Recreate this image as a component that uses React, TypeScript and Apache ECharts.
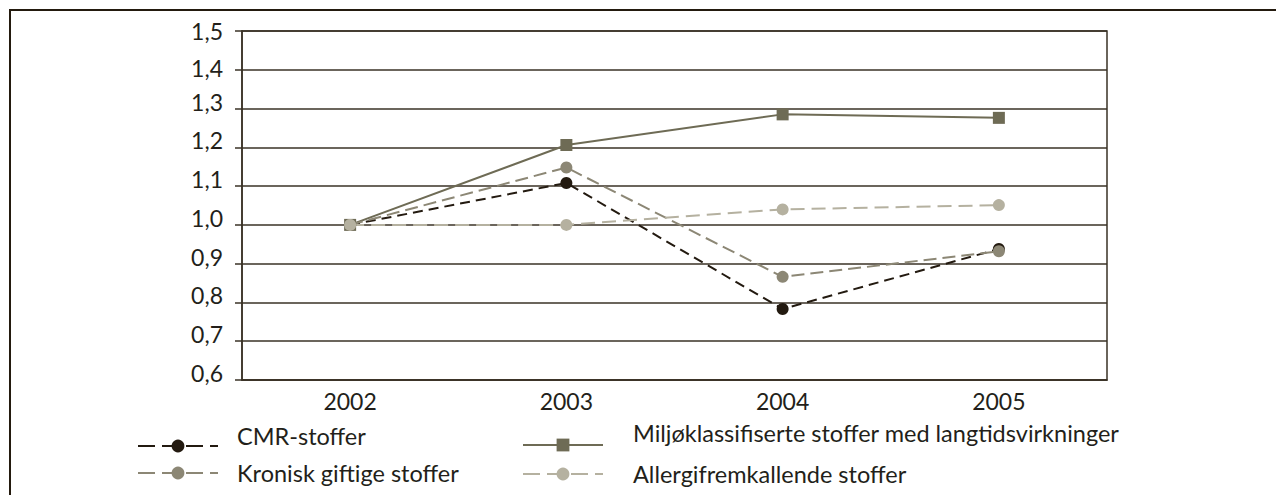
import { useEffect, useRef } from "react";
import * as echarts from "echarts";

const years = ["2002", "2003", "2004", "2005"];
const cmrValues = [1.0, 1.108, 0.783, 0.938];
const miljoValues = [1.0, 1.206, 1.285, 1.276];
const kroniskValues = [1.0, 1.148, 0.866, 0.932];
const allergiValues = [1.0, 1.0, 1.04, 1.051];
const seriesNames = [
  "CMR-stoffer",
  "Miljøklassifiserte stoffer med langtidsvirkninger",
  "Kronisk giftige stoffer",
  "Allergifremkallende stoffer",
];
const yMin = 0.6;
const yMax = 1.5;
const yStep = 0.1;

const FONT = "Lato";
const TEXT = "#231f1a";
const GRID = "#3a3226";
const C_CMR = "#231a10";
const C_MILJO = "#6e6b55";
const C_KRON = "#8c8775";
const C_ALL = "#b5b1a0";

export default function App() {
  const ref = useRef<HTMLDivElement>(null);
  useEffect(() => {
    if (!ref.current) return;
    const chart = echarts.init(ref.current, undefined, { renderer: "svg" });
    const legendBase = {
      orient: "horizontal",
      padding: 0,
      itemWidth: 80,
      itemHeight: 16,
      selectedMode: false,
      formatter: "{a|{name}}",
    };
    const txt = (padL: number, lift: number) => ({
      fontFamily: FONT,
      fontSize: 23.5,
      color: TEXT,
      rich: {
        a: {
          fontFamily: FONT,
          fontSize: 23.5,
          color: TEXT,
          padding: [0, 0, lift * 2, padL],
        },
      },
    });
    const yTok = (lh: number) => ({ fontFamily: FONT, fontSize: 23, color: TEXT, lineHeight: lh });
    chart.setOption({
      animation: false,
      backgroundColor: "#ffffff",
      textStyle: { fontFamily: FONT },
      grid: {
        left: 242,
        top: 31,
        right: 169,
        bottom: 115,
        show: true,
        borderColor: GRID,
        borderWidth: 1.5,
        containLabel: false,
      },
      graphic: [
        {
          type: "rect",
          silent: true,
          shape: { x: 10, y: 10, width: 1400, height: 700 },
          style: { fill: "none", stroke: "#231a0e", lineWidth: 2 },
        },
      ],
      legend: [
        { ...legendBase, data: [seriesNames[0]], left: 137, top: 424, textStyle: txt(14, 10), lineStyle: { type: [17, 7], width: 2 } },
        { ...legendBase, data: [seriesNames[1]], left: 522, top: 421, textStyle: txt(25, 12), lineStyle: { width: 2 } },
        { ...legendBase, data: [seriesNames[2]], left: 137, top: 461, textStyle: txt(14, 0), lineStyle: { type: [17, 7], width: 2 } },
        { ...legendBase, data: [seriesNames[3]], left: 522, top: 462, textStyle: txt(25, 0), lineStyle: { type: [17, 7], width: 2 } },
      ],
      xAxis: {
        type: "category",
        data: years,
        boundaryGap: true,
        axisLine: { show: true, lineStyle: { color: GRID, width: 1.5 } },
        axisTick: { show: false },
        axisLabel: { fontFamily: FONT, fontSize: 23, color: TEXT, margin: 9 },
        splitLine: { show: false },
      },
      yAxis: {
        type: "value",
        min: yMin,
        max: yMax,
        interval: yStep,
        axisLine: { show: true, lineStyle: { color: GRID, width: 1.5 } },
        axisTick: { show: true, inside: false, length: 7, lineStyle: { color: GRID, width: 1.5 } },
        axisLabel: {
          fontFamily: FONT,
          fontSize: 23,
          color: TEXT,
          margin: 19,
          verticalAlign: "bottom",
          lineHeight: 14,
          formatter: (v: number) => {
            const s = v.toFixed(1).replace(".", ",");
            if (v > 1.45) return "{t|" + s + "}";
            if (v > 1.35) return "{u|" + s + "}";
            return "{n|" + s + "}";
          },
          rich: {
            t: yTok(-10),
            u: yTok(4),
            n: yTok(14),
          },
        },
        splitLine: { show: true, lineStyle: { color: GRID, width: 1.5 } },
      },
      series: [
        {
          name: seriesNames[0],
          type: "line",
          data: cmrValues,
          symbol: "circle",
          symbolSize: 12,
          lineStyle: { color: C_CMR, width: 2, type: [10, 6] },
          itemStyle: { color: C_CMR },
        },
        {
          name: seriesNames[1],
          type: "line",
          data: miljoValues,
          symbol: "rect",
          symbolSize: 12,
          lineStyle: { color: C_MILJO, width: 2 },
          itemStyle: { color: C_MILJO },
        },
        {
          name: seriesNames[2],
          type: "line",
          data: kroniskValues,
          symbol: "circle",
          symbolSize: 12,
          lineStyle: { color: C_KRON, width: 2, type: [13, 6] },
          itemStyle: { color: C_KRON },
        },
        {
          name: seriesNames[3],
          type: "line",
          data: allergiValues,
          symbol: "circle",
          symbolSize: 12,
          lineStyle: { color: C_ALL, width: 2, type: [14, 7] },
          itemStyle: { color: C_ALL },
        },
      ],
    });
    return () => chart.dispose();
  }, []);
  return (
    <div
      ref={ref}
      style={{ position: "fixed", left: 0, top: 0, width: 1276, height: 495 }}
    />
  );
}
